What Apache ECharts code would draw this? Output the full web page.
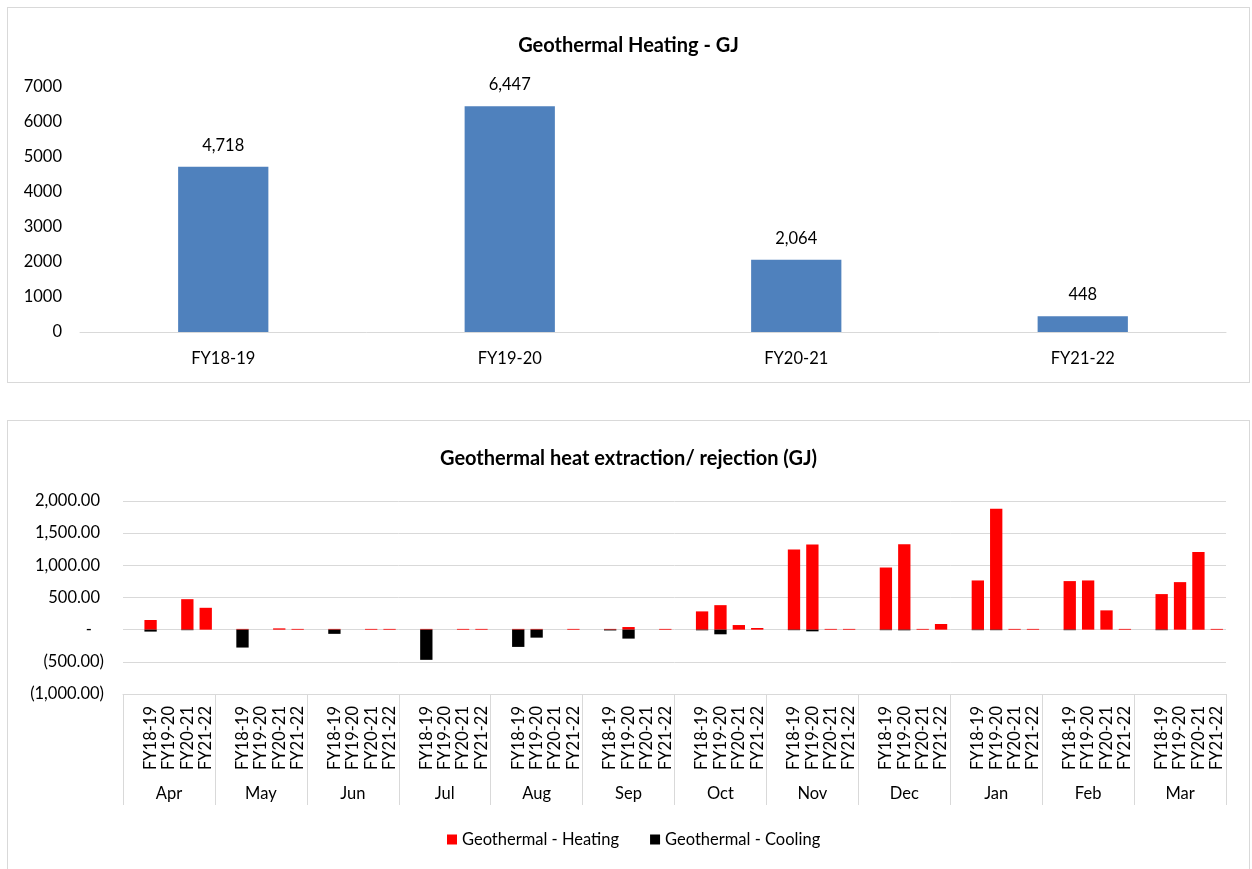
<!DOCTYPE html>
<html>
<head>
<meta charset="utf-8">
<script src="https://cdn.jsdelivr.net/npm/echarts@6/dist/echarts.min.js"></script>
<style>
  html, body { margin: 0; padding: 0; background: #fff; overflow: hidden; width: 1252px; height: 869px; }
  .box { position: absolute; left: 7px; width: 1241px; border: 1px solid #d9d9d9; background: #fff; }
  #annual { top: 7px; height: 374px; }
  #monthly { top: 420px; height: 470px; }
</style>
</head>
<body>
<div id="annual" class="box"></div>
<div id="monthly" class="box"></div>
<script>
// ---- Annual geothermal heating (GJ) ----
const fiscalYears = ['FY18-19', 'FY19-20', 'FY20-21', 'FY21-22'];
const annualHeating = [4718, 6447, 2064, 448];

// ---- Monthly heat extraction / rejection (GJ), one array per fiscal year, Apr..Mar ----
const months = ['Apr', 'May', 'Jun', 'Jul', 'Aug', 'Sep', 'Oct', 'Nov', 'Dec', 'Jan', 'Feb', 'Mar'];
const heatingFY1819 = [150, 12, 12, 12, 12, 12, 284, 1248, 966, 765, 755, 553];
const heatingFY1920 = [null, null, null, null, 12, 41, 381, 1325, 1328, 1881, 765, 739];
const heatingFY2021 = [474, 20, 12, 12, null, null, 72, 12, 12, 12, 300, 1209];
const heatingFY2122 = [340, 12, 12, 12, 12, 12, 26, 12, 88, 12, 12, 12];
const coolingFY1819 = [-30, -278, -65, -469, -268, -12, -10, -8, -8, -8, -8, -8];
const coolingFY1920 = [null, null, null, null, -124, -139, -72, -26, -10, -8, null, null];
const coolingFY2021 = [-8, null, null, null, null, null, null, null, null, null, null, null];
const coolingFY2122 = [null, null, null, null, null, null, null, null, null, null, null, null];

const FONT = 'Lato, "Open Sans", sans-serif';
const FS = 16.5;      // axis, label and legend text
const TITLE_FS = 20;  // chart titles

// Each month gets a leading empty slot followed by the four fiscal years
const heatingByFY = [heatingFY1819, heatingFY1920, heatingFY2021, heatingFY2122];
const coolingByFY = [coolingFY1819, coolingFY1920, coolingFY2021, coolingFY2122];
const slotLabels = [];
const heatingSlots = [];
const coolingSlots = [];
months.forEach((m, mi) => {
  slotLabels.push('');
  heatingSlots.push(null);
  coolingSlots.push(null);
  fiscalYears.forEach((fy, fi) => {
    slotLabels.push(fy);
    heatingSlots.push(heatingByFY[fi][mi]);
    coolingSlots.push(coolingByFY[fi][mi]);
  });
});

const fmt0 = v => Number(v).toLocaleString('en-US');
const fmt2 = v => Math.abs(v).toLocaleString('en-US', { minimumFractionDigits: 2, maximumFractionDigits: 2 });

// ---- Top chart ----
const annualChart = echarts.init(document.getElementById('annual'), null, { renderer: 'canvas' });
annualChart.setOption({
  animation: false,
  textStyle: { fontFamily: FONT },
  title: {
    text: 'Geothermal Heating - GJ',
    left: 'center',
    top: 23,
    textStyle: { fontFamily: FONT, fontSize: TITLE_FS, fontWeight: 'bold', color: '#000' }
  },
  grid: { left: 72, top: 79, width: 1146, height: 245 },
  xAxis: {
    type: 'category',
    data: fiscalYears,
    axisLine: { lineStyle: { color: '#d9d9d9', width: 1 } },
    axisTick: { show: false },
    axisLabel: { margin: 18, fontSize: FS, color: '#000', fontFamily: FONT }
  },
  yAxis: {
    type: 'value',
    min: 0, max: 7000, interval: 1000,
    axisLine: { show: false },
    axisTick: { show: false },
    splitLine: { show: false },
    axisLabel: { margin: 18, fontSize: FS, color: '#000', fontFamily: FONT, formatter: v => String(v) }
  },
  series: [{
    type: 'bar',
    data: annualHeating,
    barCategoryGap: '68.5%',
    itemStyle: { color: '#4f81bd' },
    label: {
      show: true, position: 'top', distance: 13,
      formatter: p => fmt0(p.value),
      fontSize: FS, color: '#000', fontFamily: FONT
    }
  }]
});

// ---- Bottom chart ----
const monthlyChart = echarts.init(document.getElementById('monthly'), null, { renderer: 'canvas' });
monthlyChart.setOption({
  animation: false,
  textStyle: { fontFamily: FONT },
  title: {
    text: 'Geothermal heat extraction/ rejection (GJ)',
    left: 'center',
    top: 23,
    textStyle: { fontFamily: FONT, fontSize: TITLE_FS, fontWeight: 'bold', color: '#000' }
  },
  legend: {
    top: 405,
    left: 434,
    icon: 'rect',
    itemWidth: 10,
    itemHeight: 10,
    itemGap: 31,
    textStyle: { fontSize: FS, color: '#000', fontFamily: FONT },
    data: ['Geothermal - Heating', 'Geothermal - Cooling']
  },
  grid: { left: 115, top: 80, width: 1103, height: 193 },
  xAxis: [
    {
      type: 'category',
      data: slotLabels,
      position: 'bottom',
      axisLine: { onZero: false, lineStyle: { color: '#d9d9d9', width: 1 } },
      axisTick: { show: false },
      axisLabel: { interval: 0, rotate: 90, margin: 12, fontSize: FS, color: '#000', fontFamily: FONT }
    },
    {
      type: 'category',
      data: months,
      position: 'bottom',
      axisLine: { show: false, onZero: false },
      axisTick: { show: true, interval: 0, length: 111, lineStyle: { color: '#d9d9d9', width: 1 } },
      axisLabel: { interval: 0, margin: 91, fontSize: FS, color: '#000', fontFamily: FONT }
    }
  ],
  yAxis: {
    type: 'value',
    min: -1000, max: 2000, interval: 500,
    axisLine: { show: false },
    axisTick: { show: false },
    splitLine: { lineStyle: { color: '#d9d9d9', width: 1 } },
    axisLabel: {
      margin: 19,
      fontSize: FS, color: '#000', fontFamily: FONT,
      formatter: v => {
        if (v > 0) return '{p|' + fmt2(v) + '}';
        if (v === 0) return '{z|-}';
        return '(' + fmt2(v) + ')';
      },
      rich: {
        p: { padding: [0, 4, 0, 0], fontSize: FS, color: '#000', fontFamily: FONT },
        z: { padding: [0, 12, 0, 0], fontSize: FS, color: '#000', fontFamily: FONT }
      }
    }
  },
  series: [
    {
      name: 'Geothermal - Heating',
      type: 'bar',
      stack: 'flow',
      data: heatingSlots,
      barCategoryGap: '33%',
      itemStyle: { color: '#ff0000' }
    },
    {
      name: 'Geothermal - Cooling',
      type: 'bar',
      stack: 'flow',
      data: coolingSlots,
      itemStyle: { color: '#000000' }
    }
  ]
});
</script>
</body>
</html>
